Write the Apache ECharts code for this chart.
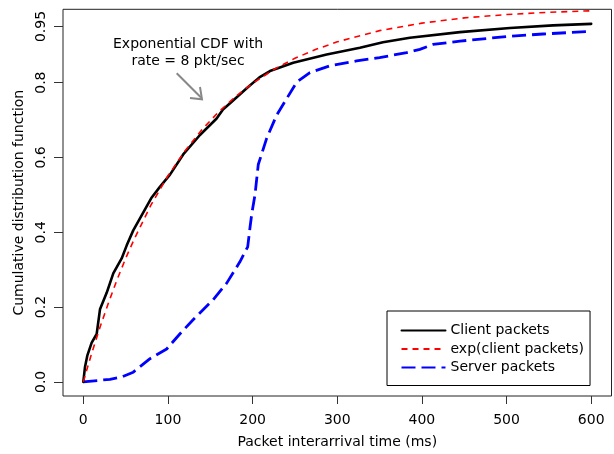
<!DOCTYPE html>
<html>
<head>
<meta charset="utf-8">
<script src="https://cdn.jsdelivr.net/npm/echarts@6/dist/echarts.min.js"></script>
<style>
html,body{margin:0;padding:0;background:#fff;}
#chart{width:614px;height:454px;}
</style>
</head>
<body>
<div id="chart"></div>
<script>
// ---- data ----
var clientT = [0, 2, 4.7, 9.9, 15.8, 19.7, 27.6, 35.4, 45.3, 51.3, 59, 70.9, 80.8, 90, 102.4, 118, 137.8, 157.5, 165, 175, 193, 208, 220.5, 248, 287.5, 326.8, 354, 385.8, 445, 504, 555, 600];
var clientV = [0, 0.04, 0.07, 0.105, 0.128, 0.194, 0.238, 0.29, 0.33, 0.365, 0.405, 0.453, 0.493, 0.52, 0.554, 0.608, 0.66, 0.704, 0.728, 0.748, 0.785, 0.814, 0.831, 0.853, 0.875, 0.893, 0.908, 0.92, 0.935, 0.946, 0.953, 0.957];

var expT = [0, 5, 10, 20, 30, 40, 50, 60, 80, 100, 120, 140, 160, 180, 200, 225, 250, 275, 300, 350, 400, 450, 500, 550, 600];
var expV = [0, 0.039, 0.077, 0.148, 0.213, 0.274, 0.330, 0.381, 0.473, 0.551, 0.617, 0.674, 0.722, 0.763, 0.798, 0.835, 0.865, 0.889, 0.909, 0.939, 0.959, 0.973, 0.982, 0.988, 0.992];

var serverT = [0, 31.5, 45, 59, 78.8, 98.5, 114, 130, 153.5, 169.4, 185, 194.2, 197, 199, 202.8, 206.7, 216.6, 228.4, 240.2, 252, 267.7, 291.4, 322.9, 350, 382, 397.6, 413, 445, 504, 543, 600];
var serverV = [0, 0.007, 0.013, 0.026, 0.062, 0.088, 0.128, 0.167, 0.22, 0.264, 0.321, 0.361, 0.414, 0.449, 0.5, 0.581, 0.651, 0.713, 0.757, 0.801, 0.827, 0.845, 0.858, 0.867, 0.88, 0.889, 0.902, 0.911, 0.924, 0.93, 0.937];

var xTicks = [0, 100, 200, 300, 400, 500, 600];
var yTicks = [0, 0.2, 0.4, 0.6, 0.8, 0.95];
var yTickLabels = ['0.0', '0.2', '0.4', '0.6', '0.8', '0.95'];

var seriesNames = ['Client packets', 'exp(client packets)', 'Server packets'];
var xTitle = 'Packet interarrival time (ms)';
var yTitle = 'Cumulative distribution function';
var annotationText = 'Exponential CDF with\nrate = 8 pkt/sec';

function zip(a, b) { return a.map(function (v, i) { return [v, b[i]]; }); }

var FONT = '"DejaVu Sans", Verdana, sans-serif';
var chart = echarts.init(document.getElementById('chart'), null, {renderer: 'canvas'});

chart.setOption({
  animation: false,
  backgroundColor: '#ffffff',
  textStyle: {fontFamily: FONT},
  grid: {
    left: 63, right: 2.5, top: 9.3, bottom: 53,
    show: true, borderColor: '#222', borderWidth: 1, backgroundColor: 'transparent'
  },
  xAxis: {
    type: 'value', min: -24, max: 624,
    axisLine: {show: false, onZero: false},
    splitLine: {show: false},
    axisTick: {show: true, customValues: xTicks, length: 8, lineStyle: {color: '#333', width: 1}},
    axisLabel: {customValues: xTicks, margin: 17, fontSize: 14, color: '#000', fontFamily: FONT},
    name: xTitle, nameLocation: 'middle', nameGap: 39, nameMoveOverlap: false,
    nameTextStyle: {fontSize: 14, color: '#000', fontFamily: FONT}
  },
  yAxis: {
    type: 'value', min: -0.0377, max: 0.996,
    axisLine: {show: false, onZero: false},
    splitLine: {show: false},
    axisTick: {show: true, customValues: yTicks, length: 9, lineStyle: {color: '#333', width: 1}},
    axisLabel: {
      customValues: yTicks, margin: 15, rotate: 90, align: 'center', verticalAlign: 'bottom',
      fontSize: 14, color: '#000', fontFamily: FONT,
      formatter: function (v) {
        for (var i = 0; i < yTicks.length; i++) { if (Math.abs(yTicks[i] - v) < 1e-9) return yTickLabels[i]; }
        return '';
      }
    },
    name: yTitle, nameLocation: 'middle', nameGap: 37, nameMoveOverlap: false,
    nameTextStyle: {fontSize: 14, color: '#000', fontFamily: FONT}
  },
  legend: {
    orient: 'vertical', left: 387, top: 311,
    padding: [12.5, 6, 11, 13.5],
    borderColor: '#000', borderWidth: 1, borderRadius: 0,
    itemWidth: 44, itemHeight: 14, itemGap: 4.5,
    itemStyle: {opacity: 0},
    textStyle: {fontSize: 14, color: '#000', fontFamily: FONT},
    data: seriesNames,
    selectedMode: false
  },
  series: [
    {
      name: seriesNames[0], type: 'line', data: zip(clientT, clientV),
      symbol: 'none', smooth: false, z: 3,
      lineStyle: {color: '#000', width: 2.6, type: 'solid', cap: 'round', join: 'round'},
      itemStyle: {color: '#000'}
    },
    {
      name: seriesNames[1], type: 'line', data: zip(expT, expV),
      symbol: 'none', smooth: false, z: 4,
      lineStyle: {color: '#ff0000', width: 1.6, type: [6, 5]},
      itemStyle: {color: '#ff0000'}
    },
    {
      name: seriesNames[2], type: 'line', data: zip(serverT, serverV),
      symbol: 'none', smooth: false, z: 2,
      lineStyle: {color: '#0000ff', width: 2.8, type: [14, 6]},
      itemStyle: {color: '#0000ff'}
    }
  ],
  graphic: [
    {
      type: 'text', x: 188, y: 53,
      style: {
        text: annotationText, fill: '#000', font: '14px ' + FONT,
        textAlign: 'center', textVerticalAlign: 'middle', lineHeight: 17
      }
    },
    {
      type: 'line', shape: {x1: 176.7, y1: 73.3, x2: 201, y2: 97.5},
      style: {stroke: '#888', lineWidth: 2}
    },
    {
      type: 'polyline', shape: {points: [[190, 98], [202, 99.3], [200, 87]]},
      style: {stroke: '#888', lineWidth: 2, fill: null, lineJoin: 'miter'}
    }
  ]
});
</script>
</body>
</html>
